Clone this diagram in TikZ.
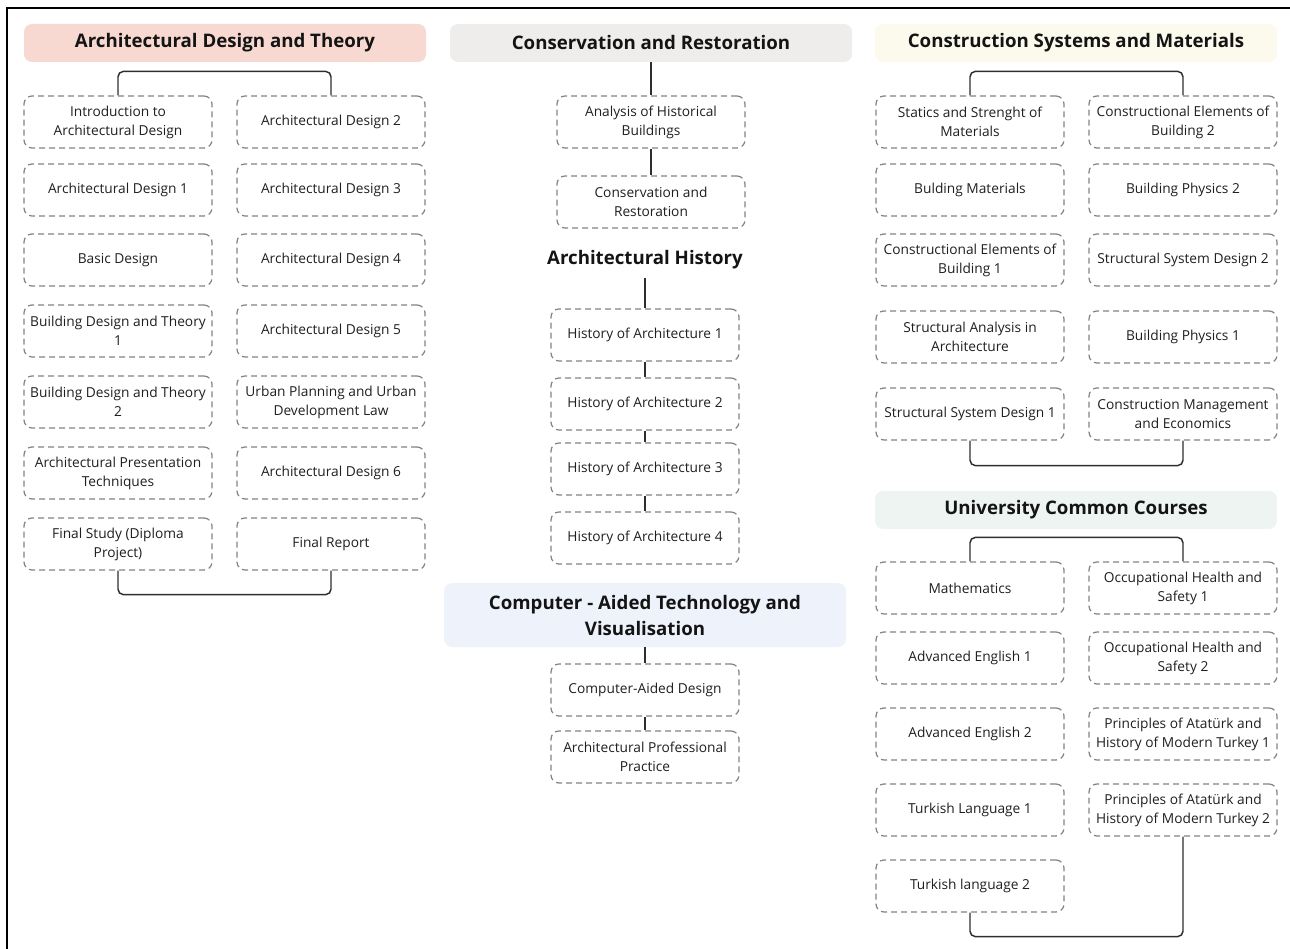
\documentclass[tikz,border=0pt]{standalone}
\usepackage{fontspec}
\setmainfont{Open Sans}

\definecolor{pinkhead}{HTML}{F8D9D2}
\definecolor{grayhead}{HTML}{EFECEC}
\definecolor{yellowhead}{HTML}{FBFAEC}
\definecolor{bluehead}{HTML}{EEF3FB}
\definecolor{greenhead}{HTML}{EDF4F1}
\definecolor{dashgray}{HTML}{828282}
\definecolor{linkgray}{HTML}{2E2E2E}
\definecolor{coursetext}{HTML}{1F1F1F}
\definecolor{headtext}{HTML}{141414}

\tikzset{
  course/.style={draw=dashgray, dash pattern=on 4.5pt off 3pt, line width=0.9pt,
    rounded corners=6pt, minimum width=141pt, minimum height=39pt, inner sep=1pt,
    align=center, text=coursetext, font=\fontsize{10.3}{14.25}\selectfont},
  grouphead/.style={fill=#1, rounded corners=6pt, minimum width=301.5pt,
    minimum height=28.5pt, align=center, text=headtext,
    font=\bfseries\fontsize{14}{19.5}\selectfont},
  link/.style={draw=linkgray, line width=1.1pt, rounded corners=4pt},
}

\begin{document}
\begin{tikzpicture}[x=0.75pt,y=0.75pt,yscale=-1]
\useasboundingbox (0,0) rectangle (1290,949);

%Straight Lines (frame)
\draw [line width=1.5pt] (7,949) -- (7,8) -- (1290,8) ;

%%%%% Architectural Design and Theory
% Text Node
\draw (225,43) node [grouphead=pinkhead] (adthead) {Architectural Design and Theory};
% Text Node
\draw (118,122) node [course] (intro) {Introduction to\\Architectural Design};
\draw (118,190) node [course] (ad1) {Architectural Design 1};
\draw (118,260) node [course] (bd) {Basic Design};
\draw (118,331) node [course] (bdt1) {Building Design and Theory\\1};
\draw (118,402) node [course] (bdt2) {Building Design and Theory\\2};
\draw (118,473) node [course] (apt) {Architectural Presentation\\Techniques};
\draw (118,544) node [course] (fs) {Final Study (Diploma\\Project)};
% Text Node
\draw (331,122) node [course] (ad2) {Architectural Design 2};
\draw (331,190) node [course] (ad3) {Architectural Design 3};
\draw (331,260) node [course] (ad4) {Architectural Design 4};
\draw (331,331) node [course] (ad5) {Architectural Design 5};
\draw (331,402) node [course] (up) {Urban Planning and Urban\\Development Law};
\draw (331,473) node [course] (ad6) {Architectural Design 6};
\draw (331,544) node [course] (fr) {Final Report};
%Straight Lines
\draw [link] (intro.north) -- ++(0,-24) -| (ad2.north) ;
\draw [link] (fs.south) -- ++(0,24) -| (fr.south) ;

%%%%% Conservation and Restoration / History
% Text Node
\draw (651,43) node [grouphead=grayhead] (crhead) {Conservation and Restoration};
\draw (651,122) node [course] (ahb) {Analysis of Historical\\Buildings};
\draw (651,202) node [course] (cr) {Conservation and\\Restoration};
%Straight Lines
\draw [link] (crhead.south) -- (ahb.north) ;
\draw [link] (ahb.south) -- (cr.north) ;

% Text Node
\draw (645,260) node [font=\bfseries\fontsize{14}{19.5}\selectfont, text=headtext, inner ysep=6pt] (ahist) {Architectural History};
\draw (645,335) node [course] (ha1) {History of Architecture 1};
\draw (645,404) node [course] (ha2) {History of Architecture 2};
\draw (645,469) node [course] (ha3) {History of Architecture 3};
\draw (645,538) node [course] (ha4) {History of Architecture 4};
%Straight Lines
\draw [link] (ahist.south) -- (ha1.north) ;
\draw [link] (ha1.south) -- (ha2.north) ;
\draw [link] (ha2.south) -- (ha3.north) ;
\draw [link] (ha3.south) -- (ha4.north) ;

% Text Node
\draw (645,615) node [grouphead=bluehead, minimum height=48pt] (cathead) {Computer - Aided Technology and\\Visualisation};
\draw (645,690) node [course] (cad) {Computer-Aided Design};
\draw (645,757) node [course] (app) {Architectural Professional\\Practice};
%Straight Lines
\draw [link] (cathead.south) -- (cad.north) ;
\draw [link] (cad.south) -- (app.north) ;

%%%%% Construction Systems and Materials
% Text Node
\draw (1076,43) node [grouphead=yellowhead] (csmhead) {Construction Systems and Materials};
\draw (970,122) node [course] (ssm) {Statics and Strenght of\\Materials};
\draw (970,190) node [course] (bm) {Bulding Materials};
\draw (970,260) node [course] (ceb1) {Constructional Elements of\\Building 1};
\draw (970,337) node [course] (sa) {Structural Analysis in\\Architecture};
\draw (970,414) node [course] (ssd1) {Structural System Design 1};
% Text Node
\draw (1183,122) node [course] (ceb2) {Constructional Elements of\\Building 2};
\draw (1183,190) node [course] (bp2) {Building Physics 2};
\draw (1183,260) node [course] (ssd2) {Structural System Design 2};
\draw (1183,337) node [course] (bp1) {Building Physics 1};
\draw (1183,414) node [course] (cme) {Construction Management\\and Economics};
%Straight Lines
\draw [link] (ssm.north) -- ++(0,-24) -| (ceb2.north) ;
\draw [link] (ssd1.south) -- ++(0,25) -| (cme.south) ;

%%%%% University Common Courses
% Text Node
\draw (1076,510) node [grouphead=greenhead] (ucchead) {University Common Courses};
\draw (970,588) node [course] (math) {Mathematics};
\draw (970,658) node [course] (ae1) {Advanced English 1};
\draw (970,734) node [course] (ae2) {Advanced English 2};
\draw (970,810) node [course] (tl1) {Turkish Language 1};
\draw (970,886) node [course] (tl2) {Turkish language 2};
% Text Node
\draw (1183,588) node [course] (ohs1) {Occupational Health and\\Safety 1};
\draw (1183,658) node [course] (ohs2) {Occupational Health and\\Safety 2};
\draw (1183,734) node [course] (pat1) {Principles of Atatürk and\\History of Modern Turkey 1};
\draw (1183,810) node [course] (pat2) {Principles of Atatürk and\\History of Modern Turkey 2};
%Straight Lines
\draw [link] (math.north) -- ++(0,-24) -| (ohs1.north) ;
\draw [link] (tl2.south) -- ++(0,24) -| (pat2.south) ;

\end{tikzpicture}
\end{document}
